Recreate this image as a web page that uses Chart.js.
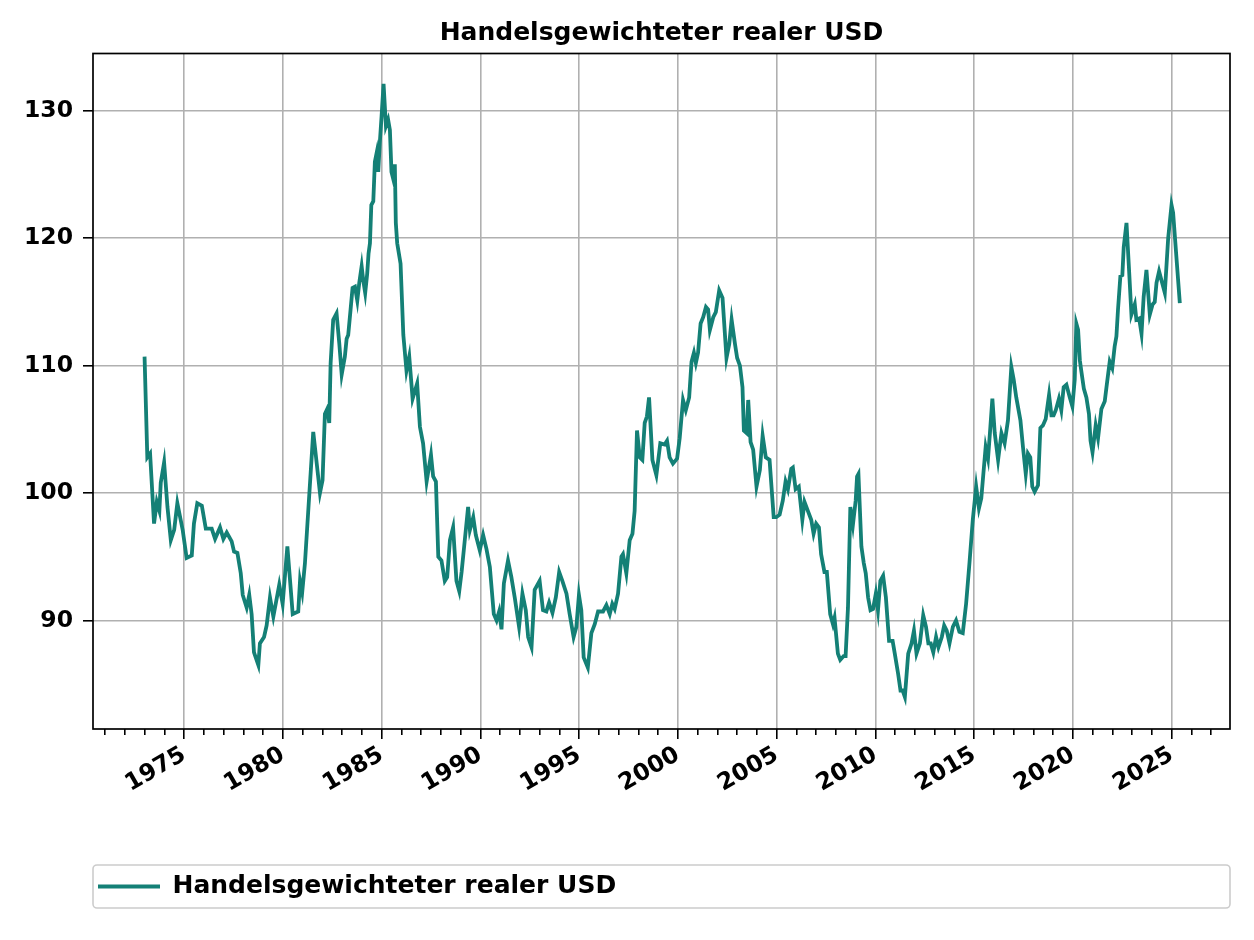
<!DOCTYPE html>
<html>
<head>
<meta charset="utf-8">
<script src="https://cdn.jsdelivr.net/npm/chart.js@4.4.1/dist/chart.umd.min.js"></script>
<style>
  body { margin: 0; background: #fff; }
  #wrap { width: 1254px; height: 940px; }
</style>
</head>
<body>
<div id="wrap"><canvas id="chart" width="1254" height="940"></canvas></div>
<script>
// Zeitpunkte (Dezimaljahre) und Indexwerte
const dates = [
  1973.00, 1973.14, 1973.28, 1973.48, 1973.62, 1973.75, 1973.82, 1973.99, 1974.16, 1974.33,
  1974.50, 1974.66, 1974.93, 1975.13, 1975.39, 1975.50, 1975.67, 1975.90, 1976.10, 1976.40,
  1976.57, 1976.82, 1976.99, 1977.16, 1977.41, 1977.53, 1977.70, 1977.87, 1977.97, 1978.17,
  1978.30, 1978.42, 1978.54, 1978.76, 1978.84, 1979.05, 1979.18, 1979.35, 1979.52, 1979.82,
  1979.99, 1980.23, 1980.50, 1980.78, 1980.87, 1980.98, 1981.12, 1981.54, 1981.88, 1982.01,
  1982.13, 1982.25, 1982.35, 1982.42, 1982.55, 1982.72, 1982.86, 1982.98, 1983.14, 1983.23,
  1983.31, 1983.43, 1983.53, 1983.65, 1983.77, 1983.87, 1983.99, 1984.07, 1984.17, 1984.27,
  1984.34, 1984.41, 1984.48, 1984.58, 1984.66, 1984.75, 1984.83, 1984.91, 1985.00, 1985.10,
  1985.22, 1985.33, 1985.42, 1985.50, 1985.58, 1985.67, 1985.72, 1985.79, 1985.96, 1986.10,
  1986.26, 1986.40, 1986.57, 1986.80, 1986.94, 1987.10, 1987.28, 1987.50, 1987.61, 1987.75,
  1987.87, 1988.03, 1988.20, 1988.32, 1988.46, 1988.62, 1988.79, 1988.93, 1989.05, 1989.16,
  1989.38, 1989.47, 1989.64, 1989.77, 1989.97, 1990.14, 1990.31, 1990.48, 1990.68, 1990.82,
  1990.95, 1991.07, 1991.19, 1991.40, 1991.57, 1991.74, 1991.96, 1992.13, 1992.30, 1992.42,
  1992.59, 1992.75, 1993.00, 1993.17, 1993.34, 1993.48, 1993.65, 1993.82, 1993.99, 1994.15,
  1994.36, 1994.52, 1994.72, 1994.86, 1994.99, 1995.11, 1995.23, 1995.44, 1995.62, 1995.79,
  1995.96, 1996.21, 1996.38, 1996.55, 1996.68, 1996.80, 1996.97, 1997.14, 1997.22, 1997.39,
  1997.56, 1997.70, 1997.81, 1997.93, 1998.07, 1998.20, 1998.32, 1998.43, 1998.54, 1998.71,
  1998.91, 1999.11, 1999.33, 1999.45, 1999.58, 1999.75, 1999.96, 2000.09, 2000.26, 2000.40,
  2000.57, 2000.69, 2000.81, 2000.91, 2001.02, 2001.15, 2001.28, 2001.42, 2001.53, 2001.62,
  2001.79, 2001.92, 2002.09, 2002.26, 2002.46, 2002.60, 2002.72, 2002.89, 2003.00, 2003.14,
  2003.27, 2003.34, 2003.48, 2003.56, 2003.68, 2003.81, 2003.98, 2004.15, 2004.29, 2004.45,
  2004.64, 2004.85, 2004.98, 2005.15, 2005.31, 2005.45, 2005.57, 2005.74, 2005.82, 2005.96,
  2006.12, 2006.30, 2006.41, 2006.58, 2006.75, 2006.87, 2007.00, 2007.14, 2007.25, 2007.42,
  2007.54, 2007.71, 2007.85, 2007.93, 2008.10, 2008.22, 2008.39, 2008.49, 2008.61, 2008.73,
  2008.86, 2009.00, 2009.07, 2009.14, 2009.29, 2009.41, 2009.51, 2009.63, 2009.75, 2009.88,
  2010.02, 2010.13, 2010.25, 2010.39, 2010.53, 2010.69, 2010.87, 2010.98, 2011.15, 2011.27,
  2011.38, 2011.49, 2011.66, 2011.83, 2011.95, 2012.08, 2012.25, 2012.42, 2012.56, 2012.68,
  2012.80, 2012.93, 2013.07, 2013.19, 2013.36, 2013.48, 2013.61, 2013.75, 2013.92, 2014.08,
  2014.25, 2014.42, 2014.59, 2014.76, 2014.93, 2015.10, 2015.24, 2015.36, 2015.48, 2015.58,
  2015.70, 2015.82, 2015.92, 2016.04, 2016.21, 2016.38, 2016.54, 2016.71, 2016.88, 2017.00,
  2017.13, 2017.34, 2017.47, 2017.61, 2017.72, 2017.84, 2017.94, 2018.06, 2018.23, 2018.35,
  2018.48, 2018.62, 2018.79, 2018.91, 2019.02, 2019.13, 2019.29, 2019.41, 2019.53, 2019.67,
  2019.84, 2019.97, 2020.09, 2020.17, 2020.26, 2020.35, 2020.43, 2020.55, 2020.68, 2020.81,
  2020.89, 2020.99, 2021.15, 2021.27, 2021.44, 2021.61, 2021.72, 2021.86, 2021.99, 2022.11,
  2022.20, 2022.28, 2022.40, 2022.50, 2022.57, 2022.71, 2022.84, 2022.96, 2023.13, 2023.21,
  2023.35, 2023.47, 2023.58, 2023.72, 2023.89, 2024.03, 2024.14, 2024.23, 2024.36, 2024.48,
  2024.65, 2024.82, 2024.99, 2025.07, 2025.41
];
const usdIndex = [
  110.7, 102.8, 103.1, 97.6, 99.3, 98.6, 100.8, 102.4, 98.9, 96.3,
  97.1, 99.2, 97.1, 94.9, 95.1, 97.6, 99.2, 99.0, 97.2, 97.2,
  96.4, 97.3, 96.4, 96.9, 96.2, 95.4, 95.3, 93.7, 92.0, 91.0,
  92.0, 90.5, 87.5, 86.5, 88.2, 88.7, 89.6, 91.8, 90.3, 92.8,
  91.3, 95.8, 90.5, 90.7, 93.1, 92.2, 94.5, 104.8, 100.0, 101.0,
  106.2, 106.6, 105.5, 110.2, 113.6, 114.1, 111.7, 109.3, 110.7, 112.1,
  112.4, 114.4, 116.1, 116.2, 115.1, 116.5, 117.8, 116.7, 115.7, 117.2,
  118.8, 119.6, 122.6, 122.9, 126.0, 126.7, 125.2, 127.5, 129.6, 132.1,
  128.8, 129.3, 128.5, 125.2, 124.7, 125.8, 121.2, 119.6, 118.0, 112.4,
  109.6, 110.7, 107.4, 108.6, 105.2, 103.9, 100.9, 103.0, 101.3, 100.9,
  95.0, 94.7, 93.1, 93.4, 96.3, 97.3, 93.1, 92.3, 93.8, 95.5,
  98.9, 97.1, 98.1, 96.7, 95.5, 96.7, 95.6, 94.2, 90.5, 90.0,
  90.7, 89.3, 92.9, 94.7, 93.4, 91.8, 89.5, 92.1, 90.8, 88.7,
  87.9, 92.4, 93.1, 90.8, 90.7, 91.4, 90.6, 91.8, 93.8, 93.1,
  92.1, 90.5, 88.7, 89.5, 92.0, 90.8, 87.1, 86.3, 89.0, 89.7,
  90.7, 90.7, 91.2, 90.5, 91.3, 90.9, 92.1, 95.0, 95.2, 93.7,
  96.3, 96.8, 98.6, 104.9, 102.8, 102.6, 105.5, 106.0, 107.5, 102.6,
  101.4, 103.9, 103.8, 104.1, 102.8, 102.3, 102.7, 104.3, 107.3, 106.5,
  107.5, 110.3, 111.0, 110.2, 111.0, 113.3, 113.8, 114.6, 114.4, 112.8,
  113.8, 114.2, 115.9, 115.3, 110.6, 111.7, 113.6, 111.7, 110.6, 110.0,
  108.3, 104.9, 104.7, 107.3, 104.0, 103.4, 100.5, 101.8, 104.5, 102.8,
  102.6, 98.1, 98.1, 98.3, 99.4, 100.9, 100.3, 101.9, 102.0, 100.3,
  100.5, 97.9, 99.3, 98.6, 97.9, 96.8, 97.6, 97.3, 95.2, 93.8,
  93.8, 90.5, 89.7, 90.2, 87.4, 86.9, 87.2, 87.2, 91.0, 98.9,
  97.5, 99.4, 101.3, 101.5, 95.8, 94.5, 93.7, 91.8, 90.8, 90.9,
  92.1, 90.8, 93.1, 93.5, 91.8, 88.4, 88.4, 87.4, 85.8, 84.5,
  84.5, 84.0, 87.4, 88.2, 89.2, 87.4, 88.2, 90.4, 89.5, 88.2,
  88.2, 87.5, 88.7, 87.9, 88.7, 89.6, 89.2, 88.2, 89.5, 90.0,
  89.1, 89.0, 91.3, 94.5, 97.9, 100.5, 98.8, 99.6, 101.8, 103.6,
  102.7, 105.2, 107.4, 104.7, 102.6, 104.7, 103.9, 105.7, 109.9, 108.9,
  107.5, 105.7, 103.6, 101.5, 103.1, 102.8, 100.5, 100.1, 100.6, 105.1,
  105.3, 105.8, 107.7, 106.1, 106.1, 106.5, 107.4, 106.5, 108.3, 108.5,
  107.5, 106.8, 108.9, 113.3, 112.8, 110.4, 109.5, 108.2, 107.5, 106.2,
  104.1, 103.2, 105.3, 104.3, 106.6, 107.2, 108.6, 110.3, 109.8, 111.5,
  112.3, 114.4, 117.0, 117.1, 119.3, 121.2, 117.5, 114.0, 114.8, 113.6,
  113.7, 112.5, 115.4, 117.5, 114.0, 114.8, 115.0, 116.5, 117.4, 116.7,
  115.7, 120.0, 122.6, 122.0, 114.9
];
const yTicks = [90, 100, 110, 120, 130];
const yearTicks = [];
for (let y = 1971; y <= 2027; y++) yearTicks.push(y);

const titleText = 'Handelsgewichteter realer USD';
const seriesLabel = 'Handelsgewichteter realer USD';
const lineColor = '#148076';
const boldFont = { family: 'DejaVu Sans', size: 25, weight: 'bold' };
const tickFont = { family: 'DejaVu Sans', size: 23.5, weight: 'bold' };

// Titel und Legende an der Achsenbreite ausrichten (wie bei matplotlib)
const alignPlugin = {
  id: 'alignToAxes',
  afterLayout(chart) {
    const a = chart.chartArea;
    if (chart.titleBlock) {
      chart.titleBlock.left = a.left;
      chart.titleBlock.right = a.right;
    }
    if (chart.legend) {
      chart.legend.left = a.left;
      chart.legend.right = a.right;
    }
  }
};

// Rahmen um die Achsen und um die Legende
const framePlugin = {
  id: 'frame',
  afterDraw(chart) {
    const ctx = chart.ctx;
    const a = chart.chartArea;
    ctx.save();
    ctx.strokeStyle = '#000';
    ctx.lineWidth = 1.7;
    ctx.strokeRect(a.left, a.top, a.right - a.left, a.bottom - a.top);
    const lg = chart.legend;
    if (lg && lg.legendHitBoxes.length) {
      const hb = lg.legendHitBoxes[0];
      const cy = hb.top + hb.height / 2;
      ctx.strokeStyle = '#cccccc';
      ctx.lineWidth = 1.6;
      ctx.beginPath();
      ctx.roundRect(a.left, cy - 21.5, a.right - a.left, 43, 4);
      ctx.stroke();
    }
    ctx.restore();
  }
};

new Chart(document.getElementById('chart'), {
  type: 'line',
  data: {
    datasets: [{
      label: seriesLabel,
      data: dates.map((d, i) => ({ x: d, y: usdIndex[i] })),
      borderColor: lineColor,
      backgroundColor: lineColor,
      borderWidth: 3.8,
      pointRadius: 0,
      tension: 0
    }]
  },
  options: {
    responsive: false,
    animation: false,
    devicePixelRatio: 1,
    layout: { padding: { left: 0, right: 24, top: 18, bottom: 31 } },
    plugins: {
      title: {
        display: true,
        text: titleText,
        color: '#000',
        font: boldFont,
        padding: { top: 0, bottom: 5.5 }
      },
      legend: {
        position: 'bottom',
        align: 'start',
        labels: {
          color: '#000',
          font: boldFont,
          usePointStyle: true,
          pointStyle: 'line',
          pointStyleWidth: 62,
          padding: 5
        }
      },
      tooltip: { enabled: false }
    },
    scales: {
      x: {
        type: 'linear',
        min: 1970.39,
        max: 2027.95,
        afterBuildTicks: axis => { axis.ticks = yearTicks.map(v => ({ value: v })); },
        afterFit: axis => { axis.height = 140; },
        border: { display: false },
        grid: {
          color: c => (c.tick && c.tick.value % 5 === 0) ? '#b0b0b0' : 'rgba(0,0,0,0)',
          lineWidth: 1.6,
          tickColor: '#000',
          tickLength: 10,
          tickWidth: 1.6,
          tickBorderDash: c => (c.tick && c.tick.value % 5 === 0) ? [] : [6, 20]
        },
        ticks: {
          autoSkip: false,
          maxRotation: 30,
          minRotation: 30,
          padding: 2,
          color: '#000',
          font: tickFont,
          callback: v => (v % 5 === 0 ? String(v) : '')
        }
      },
      y: {
        min: 81.48,
        max: 134.49,
        afterBuildTicks: axis => { axis.ticks = yTicks.map(v => ({ value: v })); },
        afterFit: axis => { axis.width = 93; },
        border: { display: false },
        grid: {
          color: '#b0b0b0',
          lineWidth: 1.6,
          tickColor: '#000',
          tickLength: 10,
          tickWidth: 1.6
        },
        ticks: {
          padding: 10,
          color: '#000',
          font: tickFont,
          callback: v => String(v)
        }
      }
    }
  },
  plugins: [alignPlugin, framePlugin]
});
</script>
</body>
</html>
